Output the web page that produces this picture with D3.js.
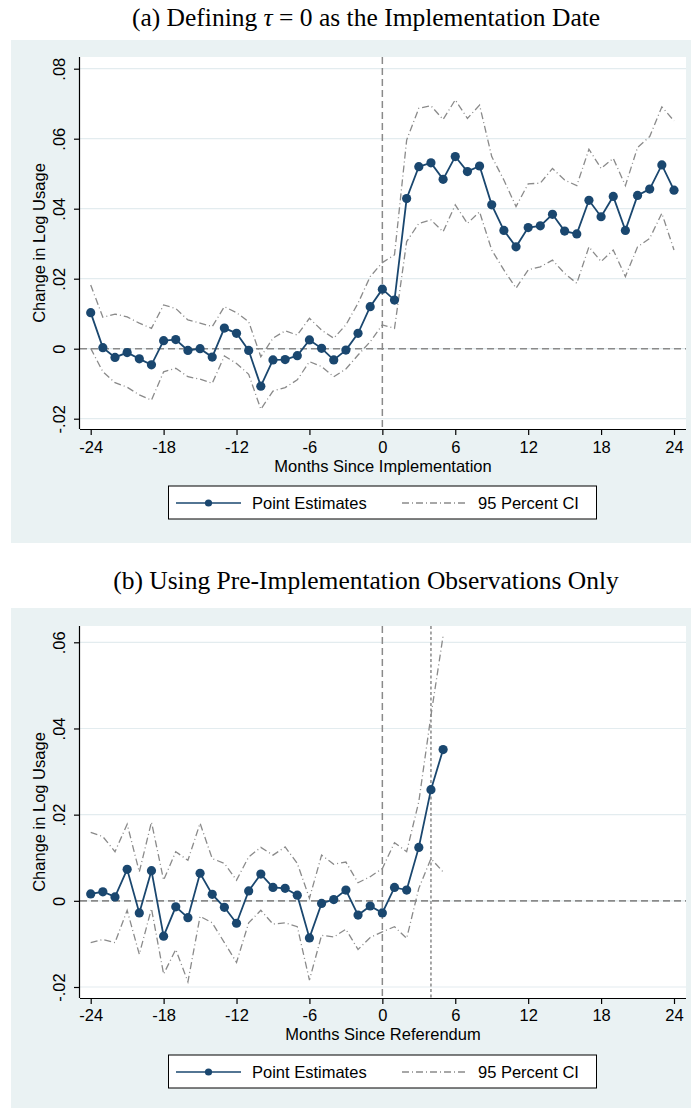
<!DOCTYPE html>
<html>
<head>
<meta charset="utf-8">
<script src="https://cdn.jsdelivr.net/npm/d3@7"></script>
<style>
  body { margin: 0; background: #fff; }
  svg { display: block; }
</style>
</head>
<body>
<svg id="chart" width="691" height="1108"></svg>
<script>
// months since event
const monthsA = [-24, -23, -22, -21, -20, -19, -18, -17, -16, -15, -14, -13, -12, -11, -10, -9, -8, -7, -6, -5, -4, -3, -2, -1,
  0, 1, 2, 3, 4, 5, 6, 7, 8, 9, 10, 11, 12, 13, 14, 15, 16, 17, 18, 19, 20, 21, 22, 23, 24];
const monthsB = [-24, -23, -22, -21, -20, -19, -18, -17, -16, -15, -14, -13, -12, -11, -10, -9, -8, -7, -6, -5, -4, -3, -2, -1,
  0, 1, 2, 3, 4, 5];

// panel (a): implementation date
const estA = [0.0103, 0.0003, -0.0025, -0.0011, -0.0029, -0.0046, 0.0023, 0.0026, -0.0005, 0.0000, -0.0024, 0.0059,
  0.0044, -0.0005, -0.0107, -0.0032, -0.0031, -0.0020, 0.0025, 0.0001, -0.0032, -0.0004, 0.0044, 0.0120,
  0.0170, 0.0139, 0.0429, 0.0520, 0.0531, 0.0484, 0.0549, 0.0506, 0.0522, 0.0411, 0.0338, 0.0291, 0.0346,
  0.0351, 0.0384, 0.0336, 0.0328, 0.0424, 0.0377, 0.0435, 0.0338, 0.0438, 0.0456, 0.0525, 0.0453];
const upA = [0.0182, 0.0090, 0.0099, 0.0091, 0.0073, 0.0058, 0.0125, 0.0115, 0.0082, 0.0073, 0.0063, 0.0120,
  0.0103, 0.0077, -0.0023, 0.0030, 0.0051, 0.0039, 0.0087, 0.0053, 0.0030, 0.0068, 0.0130, 0.0206,
  0.0246, 0.0268, 0.0596, 0.0687, 0.0694, 0.0655, 0.0711, 0.0658, 0.0696, 0.0549, 0.0482, 0.0406, 0.0471,
  0.0473, 0.0515, 0.0482, 0.0466, 0.0570, 0.0515, 0.0544, 0.0466, 0.0575, 0.0606, 0.0691, 0.0651];
const loA = [0.0001, -0.0066, -0.0097, -0.0110, -0.0132, -0.0147, -0.0066, -0.0056, -0.0080, -0.0087, -0.0099, -0.0021,
  -0.0042, -0.0073, -0.0173, -0.0121, -0.0111, -0.0089, -0.0037, -0.0051, -0.0080, -0.0058, -0.0018, 0.0020,
  0.0068, 0.0058, 0.0306, 0.0358, 0.0368, 0.0334, 0.0411, 0.0358, 0.0391, 0.0282, 0.0225, 0.0173, 0.0225,
  0.0234, 0.0253, 0.0215, 0.0187, 0.0291, 0.0249, 0.0282, 0.0206, 0.0291, 0.0315, 0.0387, 0.0282];

// panel (b): referendum date, pre-implementation only
const estB = [0.0016, 0.0021, 0.0009, 0.0073, -0.0028, 0.0070, -0.0082, -0.0014, -0.0039, 0.0064, 0.0015, -0.0015,
  -0.0052, 0.0023, 0.0062, 0.0031, 0.0029, 0.0013, -0.0086, -0.0006, 0.0003, 0.0025, -0.0033, -0.0012,
  -0.0028, 0.0031, 0.0025, 0.0124, 0.0258, 0.0351];
const upB = [0.0159, 0.0149, 0.0114, 0.0178, 0.0067, 0.0183, 0.0048, 0.0114, 0.0094, 0.0180, 0.0098, 0.0087,
  0.0048, 0.0102, 0.0124, 0.0106, 0.0125, 0.0087, 0.0006, 0.0106, 0.0085, 0.0090, 0.0042, 0.0056,
  0.0075, 0.0135, 0.0114, 0.0230, 0.0430, 0.0615];
const loB = [-0.0097, -0.0090, -0.0097, -0.0022, -0.0124, -0.0018, -0.0170, -0.0113, -0.0188, -0.0036, -0.0051, -0.0097,
  -0.0143, -0.0051, -0.0022, -0.0054, -0.0051, -0.0060, -0.0184, -0.0080, -0.0084, -0.0066, -0.0113, -0.0085,
  -0.0072, -0.0060, -0.0087, 0.0029, 0.0098, 0.0067];

const xTicks = [-24, -18, -12, -6, 0, 6, 12, 18, 24];
const yTicksA = [-0.02, 0, 0.02, 0.04, 0.06, 0.08];
const yTicksB = [-0.02, 0, 0.02, 0.04, 0.06];
const legendLabels = ["Point Estimates", "95 Percent CI"];

const navy = "#1a476f";
const gray = "#8a8a8a";
const bgColor = "#eaf2f3";
const sans = "'Liberation Sans', Arial, sans-serif";

const svg = d3.select("#chart");
svg.append("rect").attr("width", 691).attr("height", 1108).attr("fill", "#fff");

// Stata style labels: plain hyphen, no leading zero
const fmtY = (d) => d === 0 ? "0" : (d < 0 ? "-" : "") + d3.format(".2f")(Math.abs(d)).replace("0.", ".");
const fmtX = (d) => (d < 0 ? "-" : "") + Math.abs(d);

function drawPanel(opt) {
  const g = svg.append("g");

  // title above the panel (Times)
  const title = g.append("text")
    .attr("x", 366).attr("y", opt.titleY)
    .attr("text-anchor", "middle")
    .attr("font-family", "'Liberation Serif', 'Times New Roman', serif")
    .attr("font-size", 25.5);
  opt.title(title);

  // grey graph region
  g.append("rect").attr("x", 11).attr("y", opt.bgY).attr("width", 680).attr("height", opt.bgH).attr("fill", bgColor);

  const left = 80, right = 686, pTop = opt.plotY, pBot = opt.plotY + 372;
  g.append("rect").attr("x", left).attr("y", pTop).attr("width", right - left).attr("height", pBot - pTop).attr("fill", "#fff");

  const x = d3.scaleLinear().domain([-24, 24]).range([90.7, 674]);
  const y = d3.scaleLinear().domain(opt.yDomain).range([pTop + opt.yPad[0], pBot - opt.yPad[1]]);

  // gridlines
  g.append("g").selectAll("line").data(opt.yTicks).join("line")
    .attr("x1", left).attr("x2", right)
    .attr("y1", (d) => y(d)).attr("y2", (d) => y(d))
    .attr("stroke", "#e3ecef").attr("stroke-width", 1.2);

  // reference lines
  g.append("line").attr("x1", left).attr("x2", right).attr("y1", y(0)).attr("y2", y(0))
    .attr("stroke", gray).attr("stroke-width", 1.6).attr("stroke-dasharray", "7,4");
  g.append("line").attr("x1", x(0)).attr("x2", x(0)).attr("y1", pTop).attr("y2", pBot)
    .attr("stroke", gray).attr("stroke-width", 1.5).attr("stroke-dasharray", "7,4");
  if (opt.dotted != null) {
    g.append("line").attr("x1", x(opt.dotted)).attr("x2", x(opt.dotted)).attr("y1", pTop).attr("y2", pBot)
      .attr("stroke", gray).attr("stroke-width", 1.5).attr("stroke-dasharray", "3,2.5");
  }

  // confidence bands
  const ciLine = d3.line().x((d) => x(d[0])).y((d) => y(d[1]));
  [opt.up, opt.lo].forEach((arr) => {
    g.append("path")
      .datum(opt.months.map((m, i) => [m, arr[i]]))
      .attr("d", ciLine)
      .attr("fill", "none").attr("stroke", gray).attr("stroke-width", 1.3)
      .attr("stroke-dasharray", "7,3,1,3");
  });

  // point estimates
  const pts = opt.months.map((m, i) => [m, opt.est[i]]);
  g.append("path").datum(pts).attr("d", ciLine)
    .attr("fill", "none").attr("stroke", navy).attr("stroke-width", 1.8);
  g.append("g").selectAll("circle").data(pts).join("circle")
    .attr("cx", (d) => x(d[0])).attr("cy", (d) => y(d[1])).attr("r", 4.6).attr("fill", navy);

  // axes
  const xAxis = g.append("g").attr("transform", `translate(0,${pBot})`)
    .call(d3.axisBottom(x).tickValues(xTicks).tickSize(6).tickPadding(4).tickFormat(fmtX));
  xAxis.select(".domain").attr("d", `M${left},0.5H${right}`);
  xAxis.selectAll("text").attr("font-family", sans).attr("font-size", 16.5).attr("fill", "#000")
    .attr("dy", null).attr("y", opt.xLabelY - pBot);

  const yAxis = g.append("g").attr("transform", `translate(${left},0)`)
    .call(d3.axisLeft(y).tickValues(opt.yTicks).tickSize(6).tickFormat(fmtY));
  yAxis.select(".domain").attr("d", `M-0.5,${pTop}V${pBot}`);
  yAxis.selectAll("text")
    .attr("font-family", sans).attr("font-size", 16.5).attr("fill", "#000")
    .attr("text-anchor", "middle").attr("dy", null).attr("x", null)
    .attr("transform", "translate(-15,0) rotate(-90)");
  g.selectAll(".domain, .tick line").attr("stroke", "#000").attr("stroke-width", 1.2);

  // axis titles
  g.append("text").attr("x", (left + right) / 2).attr("y", opt.xTitleY)
    .attr("text-anchor", "middle").attr("font-family", sans).attr("font-size", 16.5)
    .text(opt.xTitle);
  g.append("text").attr("transform", `translate(45,${(pTop + pBot) / 2}) rotate(-90)`)
    .attr("text-anchor", "middle").attr("font-family", sans).attr("font-size", 16.5)
    .text("Change in Log Usage");

  // legend
  const ly = opt.legendY;
  const lg = g.append("g");
  lg.append("rect").attr("x", 168.5).attr("y", ly).attr("width", 428).attr("height", 33)
    .attr("fill", "#fff").attr("stroke", "#000").attr("stroke-width", 1);
  const cy = ly + 17;
  lg.append("line").attr("x1", 176).attr("x2", 241).attr("y1", cy).attr("y2", cy)
    .attr("stroke", navy).attr("stroke-width", 1.6);
  lg.append("circle").attr("cx", 208.5).attr("cy", cy).attr("r", 3.6).attr("fill", navy);
  lg.append("text").attr("x", 252).attr("y", cy + 6).attr("font-family", sans).attr("font-size", 16.5)
    .text(legendLabels[0]);
  lg.append("line").attr("x1", 402).attr("x2", 467).attr("y1", cy).attr("y2", cy)
    .attr("stroke", gray).attr("stroke-width", 1.3).attr("stroke-dasharray", "7,3,1,3");
  lg.append("text").attr("x", 478).attr("y", cy + 6).attr("font-family", sans).attr("font-size", 16.5)
    .text(legendLabels[1]);
}

drawPanel({
  titleY: 26, bgY: 40, bgH: 503, plotY: 57,
  yDomain: [0.08, -0.02], yPad: [11.7, 10.3], yTicks: yTicksA,
  months: monthsA, est: estA, up: upA, lo: loA, dotted: null,
  xLabelY: 453, xTitleY: 472, legendY: 486,
  xTitle: "Months Since Implementation",
  title: (t) => {
    t.append("tspan").text("(a) Defining ");
    t.append("tspan").attr("font-style", "italic").text("τ");
    t.append("tspan").text("\u2005=\u20050 as the Implementation Date");
  }
});

drawPanel({
  titleY: 589, bgY: 608, bgH: 500, plotY: 626,
  yDomain: [0.06, -0.02], yPad: [16.3, 11], yTicks: yTicksB,
  months: monthsB, est: estB, up: upB, lo: loB, dotted: 4,
  xLabelY: 1021, xTitleY: 1040, legendY: 1055,
  xTitle: "Months Since Referendum",
  title: (t) => t.text("(b) Using Pre-Implementation Observations Only")
});
</script>
</body>
</html>
